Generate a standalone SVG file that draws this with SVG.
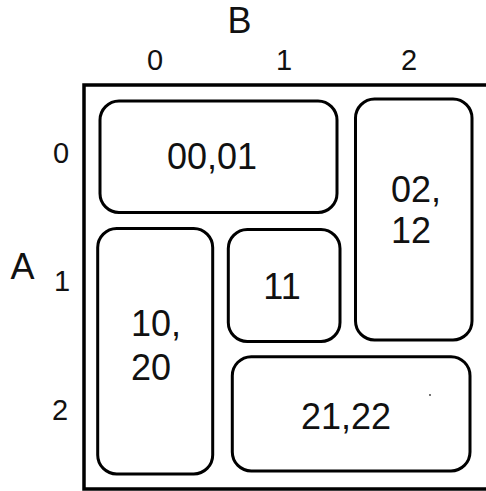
<svg xmlns="http://www.w3.org/2000/svg" width="486" height="491" viewBox="0 0 486 491">
<style>
  .box { fill: #fff; stroke: #000; stroke-width: 3; }
  .frame { fill: none; stroke: #000; stroke-width: 3.5; }
  .lbl { font-family: "Liberation Sans", Arial, sans-serif; font-size: 36px; fill: #111; }
  .ax { font-family: "Liberation Sans", Arial, sans-serif; font-size: 29px; fill: #111; text-anchor: middle; }
  .axt { font-family: "Liberation Sans", Arial, sans-serif; font-size: 36px; fill: #111; text-anchor: middle; }
</style>
<rect width="486" height="491" fill="#fff"/>
<g id="axes">
  <text class="axt" x="239.5" y="33">B</text>
  <text class="axt" x="22.5" y="279">A</text>
  <text class="ax" x="155" y="70">0</text>
  <text class="ax" x="284" y="70">1</text>
  <text class="ax" x="409" y="70">2</text>
  <text class="ax" x="61" y="163">0</text>
  <text class="ax" x="62" y="291">1</text>
  <text class="ax" x="60" y="420">2</text>
</g>
<g id="connectors"></g>
<g id="frame">
  <path class="frame" d="M 490 85 H 84 V 489 H 490"/>
</g>
<g id="n0001">
  <rect class="box" x="100" y="101" width="237" height="111.5" rx="19"/>
  <text class="lbl" x="212" y="169" text-anchor="middle">00,01</text>
</g>
<g id="n0212">
  <rect class="box" x="355.5" y="99" width="116.5" height="241" rx="19"/>
  <text class="lbl" x="391" y="202">02,</text>
  <text class="lbl" x="391" y="243">12</text>
</g>
<g id="n1020">
  <rect class="box" x="97.7" y="228.5" width="115" height="245.5" rx="19"/>
  <text class="lbl" x="131" y="336">10,</text>
  <text class="lbl" x="131" y="380">20</text>
</g>
<g id="n11">
  <rect class="box" x="228.3" y="229.5" width="111.7" height="112" rx="19"/>
  <text class="lbl" x="282" y="299" text-anchor="middle">11</text>
</g>
<g id="n2122">
  <rect class="box" x="232.3" y="356.7" width="237.7" height="114.3" rx="19"/>
  <text class="lbl" x="346" y="429" text-anchor="middle">21,22</text>
</g>
<circle cx="430" cy="395" r="0.9" fill="#333"/>
</svg>
